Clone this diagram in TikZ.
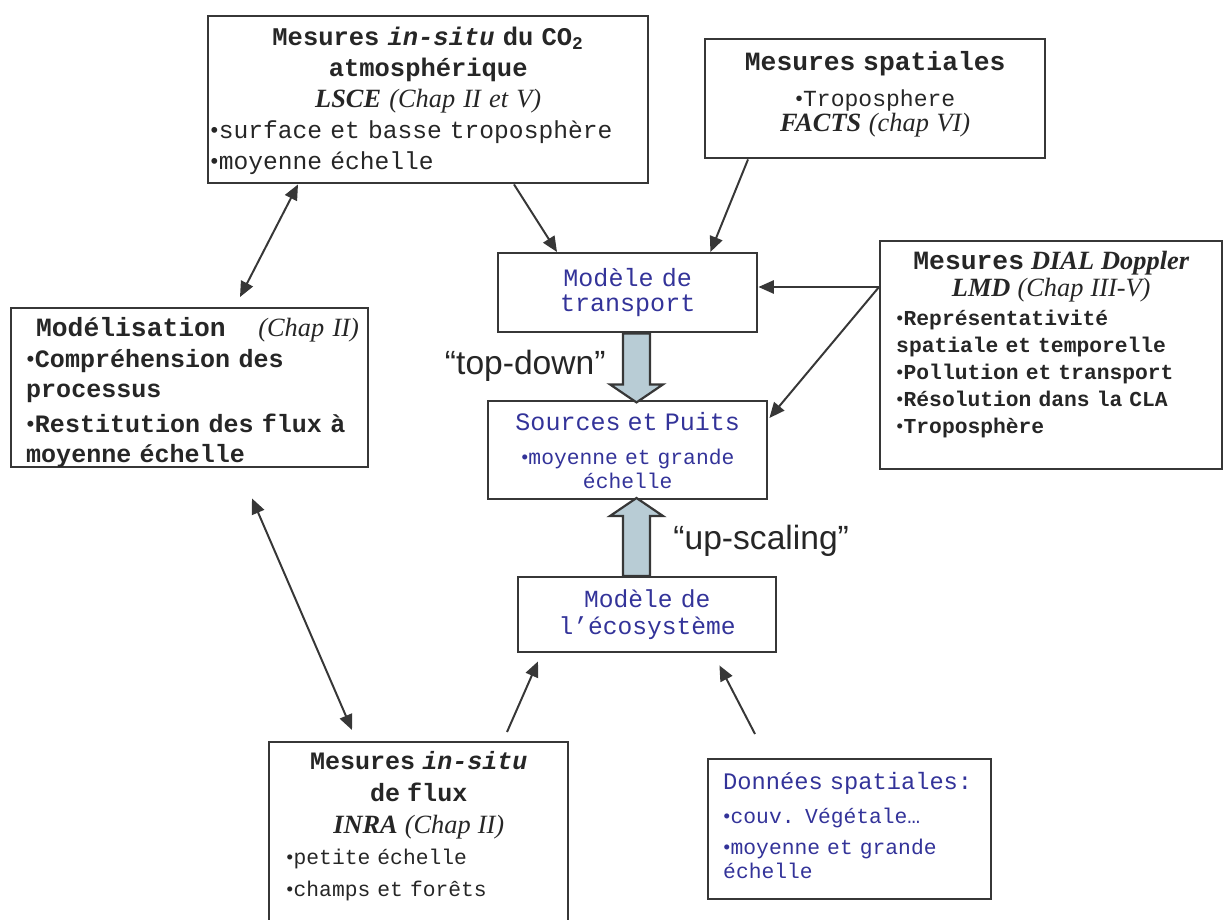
\documentclass[tikz,border=0pt]{standalone}
\usepackage{fontspec}
\setmainfont{Liberation Serif}
\setsansfont{Liberation Sans}
\setmonofont[WordSpace={1,0,0}]{Liberation Mono}
\usetikzlibrary{arrows.meta}
\setlength{\parindent}{0pt}

\definecolor{boxgray}{RGB}{55,55,55}
\definecolor{textblue}{RGB}{51,51,153}
\definecolor{fatblue}{RGB}{184,204,213}
\newcommand{\pxu}{0.016cm}
\newcommand{\bul}{{\rmfamily\mdseries\upshape\textbullet}}

\tikzset{
  box/.style={draw=boxgray, line width=1.1pt, anchor=north west, align=left,
    inner xsep=15*\pxu, inner ysep=0pt, text=black!85},
  bluebox/.style={box, text=textblue},
  link/.style={draw=boxgray, line width=0.9pt, -{Triangle[length=7pt,width=6pt]}},
  bothlink/.style={link, {Triangle[length=7pt,width=6pt]}-{Triangle[length=7pt,width=6pt]}},
  fatarrow/.style={draw=boxgray, line width=1pt, fill=fatblue},
  scalelabel/.style={font=\sffamily\fontsize{15.3}{18}\selectfont, inner sep=0pt, text=black!85}
}

\begin{document}
\begin{tikzpicture}[x=0.016cm, y=-0.016cm]
	\useasboundingbox (0,0) rectangle (1224,919);

	\node [box, text width=436*\pxu, inner xsep=2*\pxu, minimum height=167*\pxu,
		font=\ttfamily\fontsize{11.2}{14.1}\selectfont] (lsce) at (207,15)
		{{\centering\bfseries\fontsize{11.6}{14.1}\selectfont Mesures \textit{in-situ} du CO\textsubscript{2}\\
		atmosphérique\\
		{\rmfamily\fontsize{12}{14.1}\selectfont\textit{LSCE} \mdseries\itshape(Chap II et V)}\par}
		\bul surface et basse troposphère\\
		\bul moyenne échelle\par
		\vspace{-1pt}};

	\node [box, align=center, text width=310*\pxu, minimum height=119*\pxu,
		font=\ttfamily\fontsize{10.5}{14}\selectfont] (spatiales) at (704,38)
		{{\bfseries\fontsize{12}{14}\selectfont Mesures spatiales}\\[2.4pt]
		\bul Troposphere\\[-2.6pt]
		{\rmfamily\fontsize{12}{14}\selectfont\textbf{\textit{FACTS}} \textit{(chap VI)}}\par
		\vspace{4pt}};

	\node [bluebox, align=center, text width=229*\pxu, minimum height=79*\pxu,
		font=\ttfamily\fontsize{11.4}{11.6}\selectfont] (transport) at (497,252)
		{Modèle de\\ transport};

	\node [box, text width=310*\pxu, inner xsep=16*\pxu, minimum height=228*\pxu,
		font=\ttfamily\fontsize{9.7}{12.3}\selectfont] (dial) at (879,240)
		{{\centering{\bfseries\fontsize{12}{13}\selectfont Mesures {\rmfamily\itshape DIAL Doppler}}\\
		{\rmfamily\fontsize{12}{13}\selectfont\textbf{\textit{LMD}} \textit{(Chap III-V)}}\par}
		\vspace{1pt}
		{\bfseries\bul Représentativité\\ spatiale et temporelle\\ \bul Pollution et transport\\
		\bul Résolution dans la CLA\\ \bul Troposphère\par}
		\vspace{10pt}};

	\node [box, text width=327*\pxu, minimum height=159*\pxu,
		font=\ttfamily\fontsize{11.4}{13.7}\selectfont] (model) at (10,307)
		{\mbox{\hspace*{4.5pt}{\bfseries\fontsize{12}{13.7}\selectfont Modélisation}\hspace{1.3em}{\rmfamily\itshape\fontsize{12}{13.7}\selectfont(Chap II)}}\\[0.4pt]
		{\bfseries\bul Compréhension des\\ processus\\[2.3pt]
		\bul Restitution des flux à\\ moyenne échelle}\par
		\vspace{-4.6pt}};

	\node [bluebox, align=center, text width=249*\pxu, minimum height=98*\pxu,
		font=\ttfamily\fontsize{9.7}{11}\selectfont] (sources) at (487,400)
		{{\fontsize{11.4}{12}\selectfont Sources et Puits}\\[4.5pt]
		\bul moyenne et grande\\ échelle};

	\node [bluebox, align=center, text width=228*\pxu, minimum height=75*\pxu,
		font=\ttfamily\fontsize{11.2}{12.3}\selectfont] (eco) at (517,576)
		{Modèle de\\ l’écosystème};

	\node [box, text width=265*\pxu, inner xsep=17*\pxu, minimum height=200*\pxu,
		font=\ttfamily\fontsize{9.7}{14.4}\selectfont] (inra) at (268,741)
		{{\centering\bfseries\fontsize{11.4}{14.4}\selectfont Mesures \textit{in-situ}\\ de flux\\
		{\rmfamily\fontsize{12}{14.4}\selectfont\textit{INRA} \mdseries\itshape(Chap II)}\par}
		\bul petite échelle\\ \bul champs et forêts\par
		\vspace{14.6pt}};

	\node [bluebox, text width=253*\pxu, minimum height=140*\pxu,
		font=\ttfamily\fontsize{9.7}{11}\selectfont] (donnees) at (707,758)
		{{\fontsize{10.8}{12}\selectfont Données spatiales:}\\[4.5pt]
		\bul couv. Végétale…\\[3pt]
		\bul moyenne et grande\\ échelle\par
		\vspace{3.5pt}};

	\node [scalelabel, anchor=base east] (tdlabel) at (606,374) {“top-down”};
	\node [scalelabel, anchor=base west] (uslabel) at (673,549) {“up-scaling”};

	% fat arrows between the models and the fluxes
	\draw [fatarrow] (transport.south west) ++(126,0) -- ++(0,51) -- ++(-13,0) -- ++(26.5,18)
		-- ++(26.5,-18) -- ++(-13,0) -- ++(0,-51) -- cycle;
	\draw [fatarrow] (eco.north west) ++(106,0) -- ++(0,-60) -- ++(-13,0) -- ++(26.5,-18)
		-- ++(26.5,18) -- ++(-13,0) -- ++(0,60) -- cycle;

	\coordinate (dialport) at ([shift={(0,47)}]dial.north west);

	\draw [bothlink] ([shift={(91,0)}]lsce.south west) -- ([shift={(230,-10)}]model.north west);
	\draw [link] ([shift={(307,0)}]lsce.south west) -- ([shift={(60,0)}]transport.north west);
	\draw [link] ([shift={(44,0)}]spatiales.south west) -- ([shift={(-48,0)}]transport.north east);
	\draw [link] (dialport) -- (dialport -| transport.east);
	\draw [link] (dialport) -- ([shift={(1,18)}]sources.north east);
	\draw [bothlink] ([shift={(242,30)}]model.south west) -- ([shift={(84,-11)}]inra.north west);
	\draw [link] ([shift={(239,-9)}]inra.north west) -- ([shift={(21,8)}]eco.south west);
	\draw [link] ([shift={(48,-24)}]donnees.north west) -- ([shift={(-58,12)}]eco.south east);

\end{tikzpicture}
\end{document}
